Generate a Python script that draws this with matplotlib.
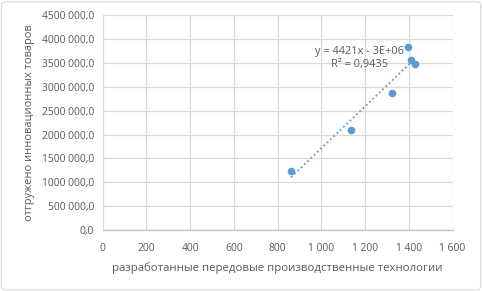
import matplotlib
matplotlib.use("Agg")
import matplotlib.pyplot as plt
import numpy as np
from matplotlib.patches import FancyBboxPatch

x_vals = [861, 1135, 1321, 1397, 1409, 1428]
y_vals = [1241000, 2093000, 2874000, 3837000, 3558000, 3489000]
x_ticks = [0, 200, 400, 600, 800, 1000, 1200, 1400, 1600]
x_tick_labels = ["0", "200", "400", "600", "800", "1 000", "1 200", "1 400", "1 600"]
y_ticks = [0, 500000, 1000000, 1500000, 2000000, 2500000, 3000000, 3500000, 4000000, 4500000]
y_tick_labels = ["0,0", "500 000,0", "1000 000,0", "1500 000,0", "2000 000,0", "2500 000,0",
                 "3000 000,0", "3500 000,0", "4000 000,0", "4500 000,0"]
x_label = "разработанные передовые производственные технологии"
y_label = "отгружено инновационных товаров"
eq_text = "y = 4421x - 3E+06\nR² = 0,9435"

plt.rcParams['font.family'] = ['Open Sans', 'DejaVu Sans']
txt = "#595959"
blue = "#5B9BD5"

fig = plt.figure(figsize=(4.82, 2.91), dpi=100)
border = FancyBboxPatch((0.003, 0.004), 0.994, 0.99, boxstyle="round,pad=0,rounding_size=0.01",
                        transform=fig.transFigure, fc="none", ec="#D9D9D9", lw=0.8, zorder=-10)
fig.patches.append(border)
ax = fig.add_axes([0.213, 0.2096, 0.726, 0.7378])
ax.set_facecolor("none")

ax.scatter(x_vals, y_vals, s=30, color=blue, zorder=3, linewidths=0)
xa = np.array(x_vals, float); ya = np.array(y_vals, float)
k, b = np.polyfit(xa, ya, 1)
xs = np.array([xa.min(), xa.max()])
ax.plot(xs, k * xs + b, linestyle=(0, (1, 1.5)), color=blue, lw=1.3, zorder=2)

ax.text(1176, 3600000, eq_text, ha="center", va="center", fontsize=7.9, color=txt,
        linespacing=1.3, multialignment="center")

ax.set_xlim(0, 1600)
ax.set_ylim(0, 4500000)
ax.set_xticks(x_ticks)
ax.set_xticklabels(x_tick_labels)
ax.set_yticks(y_ticks)
ax.set_yticklabels(y_tick_labels)
ax.grid(True, color="#D9D9D9", lw=0.9)
ax.set_axisbelow(True)
for s in ["top", "right", "left"]:
    ax.spines[s].set_visible(False)
ax.spines["bottom"].set_color("#BFBFBF")
ax.spines["bottom"].set_linewidth(0.9)
ax.tick_params(axis="x", length=0, labelsize=7.4, colors=txt, pad=9)
ax.tick_params(axis="y", length=0, labelsize=7.4, colors=txt, pad=6)
ax.set_xlabel(x_label, fontsize=8.2, color=txt, labelpad=6)
ax.set_ylabel(y_label, fontsize=7.9, color=txt, labelpad=5)

fig.savefig("out.png", dpi=100)
